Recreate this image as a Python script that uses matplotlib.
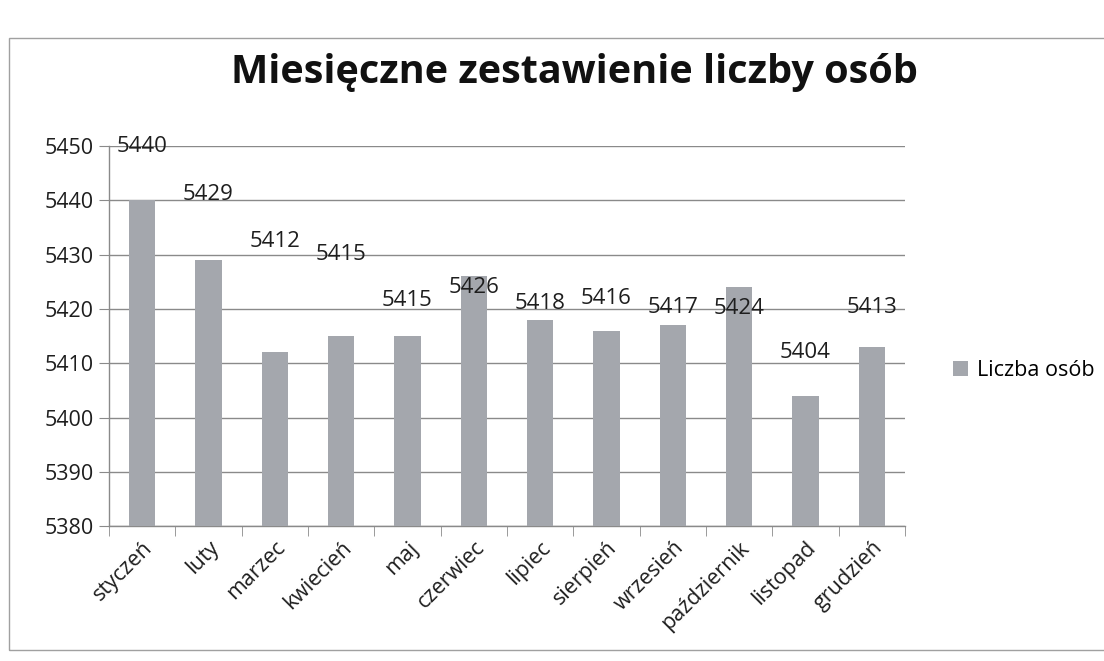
import matplotlib.pyplot as plt
import matplotlib.transforms as mtransforms
from matplotlib.patches import Rectangle

# dane z wykresu
miesiace = ['styczeń', 'luty', 'marzec', 'kwiecień', 'maj', 'czerwiec',
            'lipiec', 'sierpień', 'wrzesień', 'październik', 'listopad', 'grudzień']
liczba_osob = [5440, 5429, 5412, 5415, 5415, 5426, 5418, 5416, 5417, 5424, 5404, 5413]
y_ticks = [5380, 5390, 5400, 5410, 5420, 5430, 5440, 5450]

# przesunięcie etykiet (jak w oryginale, ręcznie poprzesuwane)
przesuniecie = [10, 12, 20.5, 15, 6.5, -2, 3, 6, 3.3, -4, 8, 7.3]

plt.rcParams['font.family'] = ['Open Sans', 'DejaVu Sans']
kolor_slupka = '#a4a7ad'
kolor_siatki = '#8a8a8a'
kolor_tekstu = '#1e1e1e'

fig = plt.figure(figsize=(11.04, 6.61), dpi=100)
ax = fig.add_axes([0.0987, 0.204, 0.721, 0.575])

x = list(range(len(miesiace)))
bars = ax.bar(x, liczba_osob, width=0.4, color=kolor_slupka, zorder=3,
              label='Liczba osób')
# excelowy wykres - słupki od dołu osi
for b in bars:
    b.set_y(y_ticks[0])
    b.set_height(b.get_height() - y_ticks[0])

for i, v in enumerate(liczba_osob):
    ax.text(i, v + przesuniecie[i], str(v), ha='center', va='center',
            fontsize=16, color=kolor_tekstu, zorder=4)

ax.set_ylim(y_ticks[0], y_ticks[-1])
ax.set_xlim(-0.5, len(miesiace) - 0.5)
ax.set_yticks(y_ticks)
ax.set_yticklabels([str(t) for t in y_ticks], fontsize=15.5, color=kolor_tekstu)
ax.set_xticks(x)
ax.set_xticklabels(miesiace, rotation=45, ha='right', rotation_mode='anchor',
                   fontsize=15.5, color=kolor_tekstu)
# etykiety miesięcy lekko w prawo, jak w Excelu
przes = mtransforms.ScaledTranslation(8 / 72, 0, fig.dpi_scale_trans)
for lab in ax.get_xticklabels():
    lab.set_transform(lab.get_transform() + przes)
ax.set_xticks([i - 0.5 for i in range(len(miesiace) + 1)], minor=True)
ax.tick_params(axis='x', which='major', length=0, pad=8)
ax.tick_params(axis='x', which='minor', length=7, color=kolor_siatki, direction='out')
ax.tick_params(axis='y', length=7, color=kolor_siatki, pad=4)

ax.grid(axis='y', color=kolor_siatki, linewidth=1, zorder=0)
for s in ['top', 'right']:
    ax.spines[s].set_visible(False)
for s in ['left', 'bottom']:
    ax.spines[s].set_color(kolor_siatki)
    ax.spines[s].set_linewidth(1)

fig.suptitle('Miesięczne zestawienie liczby osób', x=0.52, y=0.92,
             fontsize=28.5, fontweight='bold', color='#111111')

fig.legend(handles=[bars], labels=['Liczba osób'], loc='center left',
           bbox_to_anchor=(0.846, 0.44), frameon=False, fontsize=15.5,
           handlelength=0.7, handleheight=0.7, handletextpad=0.4)

# ramka wykresu
fig.patches.append(Rectangle((0.008, 0.017), 1.0, 0.925, transform=fig.transFigure,
                             fill=False, edgecolor='#a0a0a0', linewidth=1.0))

fig.savefig('out.png', dpi=100)
